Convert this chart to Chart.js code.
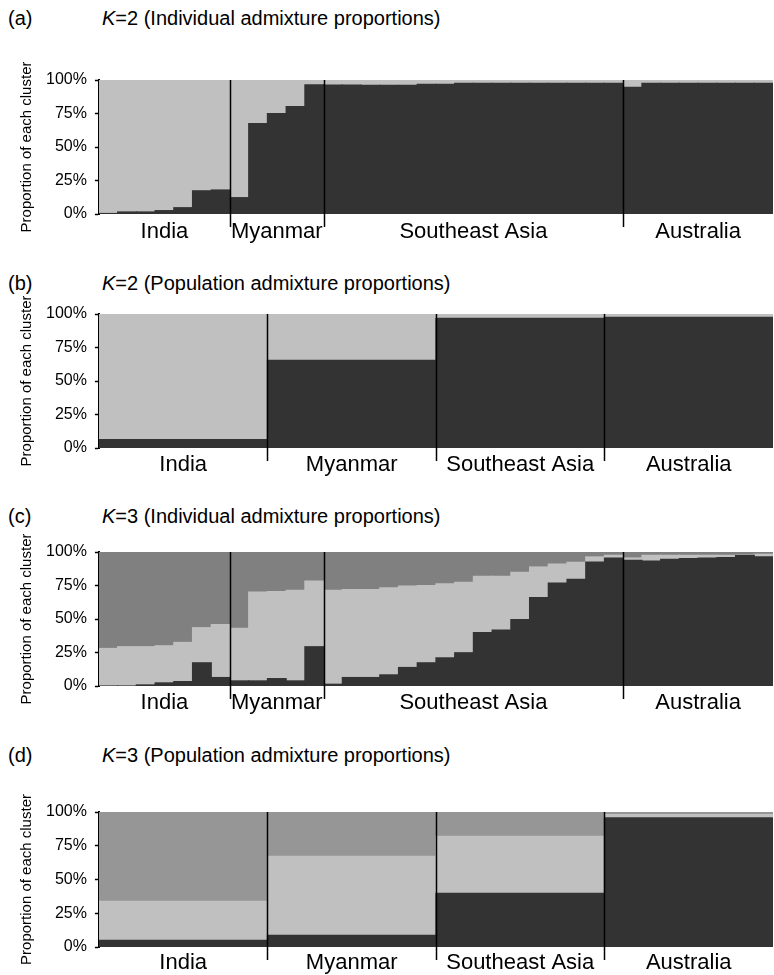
<!DOCTYPE html>
<html>
<head>
<meta charset="utf-8">
<script src="https://cdn.jsdelivr.net/npm/chart.js@4.4.1/dist/chart.umd.min.js"></script>
<style>
  body { margin: 0; width: 774px; height: 975px; overflow: hidden; position: relative; background: #fff;
         font-family: 'Liberation Sans', Arial, sans-serif; color: #000; }
  .title { position: absolute; left: 0; width: 774px; height: 24px; font-size: 20px; line-height: 24px; white-space: nowrap; }
  .title .tag { position: absolute; left: 8px; }
  .title .txt { position: absolute; left: 102px; }
  .panel { position: absolute; left: 0; width: 774px; }
</style>
</head>
<body>
<div class="title" style="top:6px"><span class="tag">(a)</span><span class="txt"><i>K</i>=2 (Individual admixture proportions)</span></div>
<div class="panel" style="top:62px;height:190px"><canvas id="chartA"></canvas></div>

<div class="title" style="top:271px"><span class="tag">(b)</span><span class="txt"><i>K</i>=2 (Population admixture proportions)</span></div>
<div class="panel" style="top:296px;height:190px"><canvas id="chartB"></canvas></div>

<div class="title" style="top:504px"><span class="tag">(c)</span><span class="txt"><i>K</i>=3 (Individual admixture proportions)</span></div>
<div class="panel" style="top:534px;height:190px"><canvas id="chartC"></canvas></div>

<div class="title" style="top:743px"><span class="tag">(d)</span><span class="txt"><i>K</i>=3 (Population admixture proportions)</span></div>
<div class="panel" style="top:794px;height:181px"><canvas id="chartD"></canvas></div>

<script>
// populations and number of sampled individuals in each
var groups = ['India', 'Myanmar', 'Southeast Asia', 'Australia'];
var groupSizes = [7, 5, 16, 8];

// (a) K=2, individuals (%)
var k2IndDark = [
    0.3, 1.5, 1.5, 2.5, 4.7, 17.3, 17.9,
    12.2, 67.4, 74.9, 80.1, 96.3,
    96.2, 96.2, 96.0, 96.0, 96.0, 96.8, 96.8, 97.5, 97.5, 97.5, 97.5, 97.5, 97.5, 97.5, 97.5, 97.5,
    94.5, 97.5, 97.5, 97.5, 97.5, 97.5, 97.5, 97.5
];
var k2IndLight = [
    99.7, 98.5, 98.5, 97.5, 95.3, 82.7, 82.1,
    87.8, 32.6, 25.1, 19.9, 3.7,
    3.8, 3.8, 4.0, 4.0, 4.0, 3.2, 3.2, 2.5, 2.5, 2.5, 2.5, 2.5, 2.5, 2.5, 2.5, 2.5,
    5.5, 2.5, 2.5, 2.5, 2.5, 2.5, 2.5, 2.5
];

// (b) K=2, populations (%)
var k2PopDark = [6.2, 65.4, 96.8, 97.5];
var k2PopLight = [93.8, 34.6, 3.2, 2.5];

// (c) K=3, individuals (%)
var k3IndDark = [
    0, 0, 0.8, 2.3, 3.3, 17.3, 6.3,
    3.8, 3.8, 5.5, 3.8, 29.3,
    1.3, 6.3, 6.3, 8.3, 13.8, 17.3, 21, 24.8, 39.8, 41.8, 49.5, 66, 76.8, 79.5, 92.5, 95.5,
    93.8, 93.3, 94.5, 95, 95.5, 95.8, 97.5, 96.3
];
var k3IndLight = [
    28, 29.3, 28.5, 27.7, 29.2, 26.2, 39.5,
    39.2, 66.2, 65, 67.5, 49,
    70, 65.7, 65.7, 65, 60.7, 57.7, 55.3, 52.5, 42, 40, 35.3, 22.8, 14.2, 12.8, 3.8, 2,
    1.7, 4.2, 3, 2.5, 2, 1.7, 0.5, 2
];
var k3IndMid = [
    72, 70.7, 70.7, 70, 67.5, 56.5, 54.2,
    57, 30, 29.5, 28.7, 21.7,
    28.7, 28, 28, 26.7, 25.5, 25, 23.7, 22.7, 18.2, 18.2, 15.2, 11.2, 9, 7.7, 3.7, 2.5,
    4.5, 2.5, 2.5, 2.5, 2.5, 2.5, 2, 1.7
];

// (d) K=3, populations (%)
var k3PopDark = [5, 8.6, 39.8, 95.6];
var k3PopLight = [28.8, 58.6, 42.2, 2.4];
var k3PopMid = [66.2, 32.8, 18, 2];

var yTicks = [0, 25, 50, 75, 100];

var FONT = "'Liberation Sans', Arial, sans-serif";

var individualLabels = [];
groups.forEach(function(g, i) {
    for (var j = 1; j <= groupSizes[i]; j++) individualLabels.push(g + ' ' + j);
});

// group separators and population names under the x axis
var groupMarks = {
    id: 'groupMarks',
    afterDraw: function(chart, args, opts) {
        var ctx = chart.ctx;
        var x = chart.scales.x;
        var area = chart.chartArea;
        var start = 0;
        ctx.save();
        ctx.strokeStyle = '#000';
        ctx.lineWidth = 1.5;
        ctx.fillStyle = '#000';
        ctx.font = '22px ' + FONT;
        ctx.textAlign = 'center';
        ctx.textBaseline = 'middle';
        opts.sizes.forEach(function(n, i) {
            if (i > 0) {
                var px = Math.round(x.getPixelForValue(start - 0.5)) + 0.5;
                ctx.beginPath();
                ctx.moveTo(px, area.top);
                ctx.lineTo(px, area.bottom + 13);
                ctx.stroke();
            }
            ctx.fillText(groups[i], x.getPixelForValue(start + (n - 1) / 2), area.bottom + opts.gap);
            start += n;
        });
        ctx.restore();
    }
};

function bars(label, data, color) {
    return {
        label: label,
        data: data,
        backgroundColor: color,
        borderWidth: 0,
        inflateAmount: 0.6,
        barPercentage: 1,
        categoryPercentage: 1
    };
}

function makeChart(id, labels, sizes, datasets, bottomPad, gap) {
    return new Chart(document.getElementById(id), {
        type: 'bar',
        data: { labels: labels, datasets: datasets },
        plugins: [groupMarks],
        options: {
            animation: false,
            responsive: true,
            maintainAspectRatio: false,
            layout: { padding: { left: 9, right: 1, top: 18, bottom: bottomPad } },
            plugins: {
                legend: { display: false },
                tooltip: { enabled: false },
                groupMarks: { sizes: sizes, gap: gap }
            },
            scales: {
                x: {
                    stacked: true,
                    display: false
                },
                y: {
                    stacked: true,
                    min: 0,
                    max: 100,
                    afterBuildTicks: function(scale) {
                        scale.ticks = yTicks.map(function(v) { return { value: v }; });
                    },
                    ticks: {
                        color: '#000',
                        padding: 8,
                        font: { family: FONT, size: 16 },
                        callback: function(v) { return v + '%'; }
                    },
                    grid: {
                        drawOnChartArea: false,
                        drawTicks: true,
                        tickLength: 4,
                        tickWidth: 1.5,
                        tickColor: '#000'
                    },
                    border: { display: true, color: '#000', width: 2 },
                    title: {
                        display: true,
                        text: 'Proportion of each cluster',
                        color: '#000',
                        font: { family: FONT, size: 15 },
                        padding: { top: 9, bottom: 2 }
                    }
                }
            }
        }
    });
}

var DARK = '#333333', LIGHT = '#c0c0c0', MID_C = '#808080', MID_D = '#969696';

makeChart('chartA', individualLabels, groupSizes, [
    bars('Cluster 1', k2IndDark, DARK),
    bars('Cluster 2', k2IndLight, LIGHT)
], 38, 18);

makeChart('chartB', groups, [1, 1, 1, 1], [
    bars('Cluster 1', k2PopDark, DARK),
    bars('Cluster 2', k2PopLight, LIGHT)
], 38, 17);

makeChart('chartC', individualLabels, groupSizes, [
    bars('Cluster 1', k3IndDark, DARK),
    bars('Cluster 2', k3IndLight, LIGHT),
    bars('Cluster 3', k3IndMid, MID_C)
], 38, 17);

makeChart('chartD', groups, [1, 1, 1, 1], [
    bars('Cluster 1', k3PopDark, DARK),
    bars('Cluster 2', k3PopLight, LIGHT),
    bars('Cluster 3', k3PopMid, MID_D)
], 28, 16);
</script>
</body>
</html>
